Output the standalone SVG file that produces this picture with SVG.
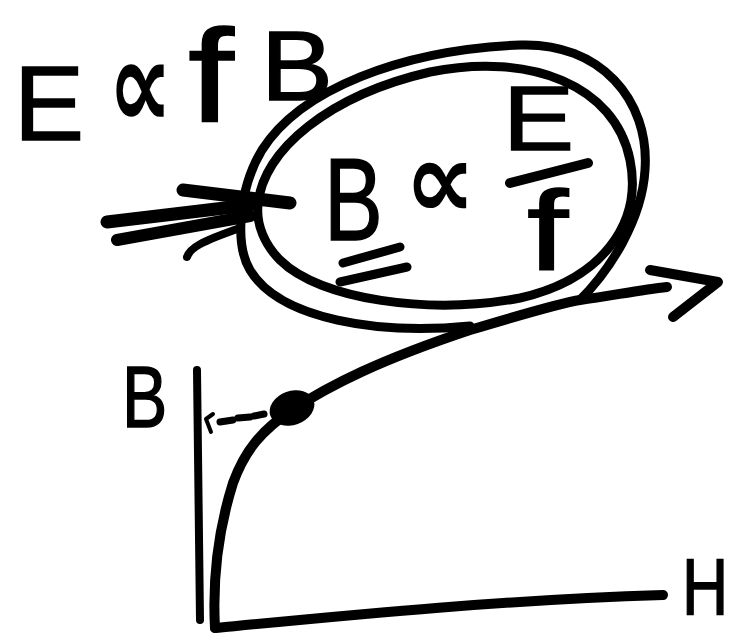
<svg xmlns="http://www.w3.org/2000/svg" width="734" height="633" viewBox="0 0 734 633">
<style>
.ink{fill:none;stroke:#000;stroke-linecap:round;stroke-linejoin:round}
.t{font-family:"Liberation Sans","DejaVu Sans",sans-serif;font-weight:normal;fill:#000;stroke:#000;stroke-width:1.5}
.m{font-family:"DejaVu Sans","Liberation Sans",sans-serif;font-weight:bold;fill:#000}
</style>
<rect width="734" height="633" fill="#fff"/>
<g id="equation-top">
<text class="t" font-size="105" transform="translate(14,140)">E</text>
<text class="m" font-size="90" text-anchor="middle" transform="translate(140,128) scale(1,1.4)">∝</text>
<text class="t" font-size="132" transform="translate(188,122) scale(1.25,1)">f</text>
<text class="t" font-size="98" transform="translate(261,100) scale(1.1,1)">B</text>
</g>
<g id="loop">
<path class="ink" stroke-width="9" d="M258,205 C262,150 330,95 430,72 C530,52 615,85 630,160 C643,225 600,280 520,298 C430,315 320,300 280,260 C265,245 256,225 258,205 Z"/>
<path class="ink" stroke-width="9" d="M470,326 C380,335 280,320 250,270 C235,245 238,190 262,150 C300,90 400,50 520,45 C600,42 650,100 645,170 C642,220 610,270 580,300"/>
<text class="t" font-size="116" transform="translate(324,240) scale(0.76,1)">B</text>
<path class="ink" stroke-width="9" d="M343,263 L400,247 M340,282 L407,267"/>
<text class="m" font-size="80" text-anchor="middle" transform="translate(440,218) scale(1.25,1.37)">∝</text>
<text class="t" font-size="91" transform="translate(503,150) scale(1.17,1)">E</text>
<path class="ink" stroke-width="10" d="M510,183 L588,163"/>
<text class="t" font-size="114" transform="translate(527,270) scale(1.3,1)">f</text>
</g>
<g id="graph">
<path class="ink" stroke-width="8" d="M197,370 L200,620"/>
<path class="ink" stroke-width="10" d="M215,628 C350,615 500,600 663,595"/>
<text class="t" font-size="87" transform="translate(122,427) scale(0.78,1)">B</text>
<text class="t" font-size="80" transform="translate(682,614) scale(0.8,1)">H</text>
</g>
<g id="operating-point">
<ellipse cx="292" cy="408" rx="23" ry="17" transform="rotate(-20 292 408)" fill="#000"/>
<path class="ink" stroke-width="7" d="M220,422 L233,420 M238,418 L250,417 M254,416 L264,414"/>
<path class="ink" stroke-width="4" d="M213,414 L206,419 L211,432"/>
</g>
<g id="connectors">
<path class="ink" stroke-width="13" d="M183,190 L290,203"/>
<path class="ink" stroke-width="13" d="M107,222 L250,205"/>
<path class="ink" stroke-width="12" d="M117,240 L250,216"/>
<path class="ink" stroke-width="8" d="M187,257 C190,248 200,242 240,228"/>
<path class="ink" stroke-width="10" d="M215,628 C213,590 215,540 233,483 C245,450 262,430 292,410 C330,385 380,360 470,330 C520,315 560,303 580,300 C610,296 640,290 667,287"/>
<path class="ink" stroke-width="10" d="M650,270 L718,282 L673,317"/>
</g>
</svg>
